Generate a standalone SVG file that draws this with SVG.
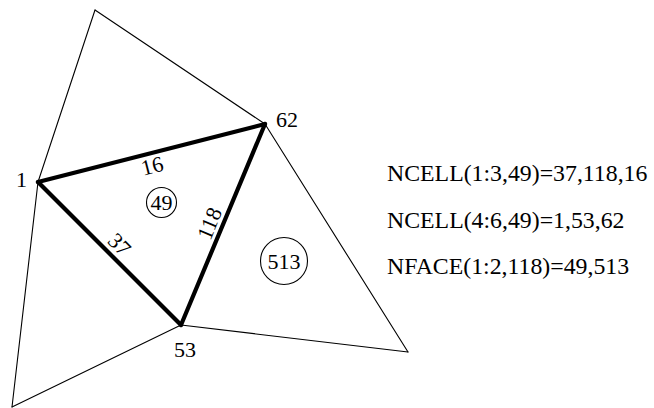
<svg xmlns="http://www.w3.org/2000/svg" width="654" height="408" viewBox="0 0 654 408">
<style>
.thin{stroke:#000;stroke-width:1.1;fill:none;stroke-linecap:round}
.thick{stroke:#000;stroke-width:4.2;fill:none;stroke-linecap:round;stroke-linejoin:round}
.circ{stroke:#000;stroke-width:1.1;fill:none}
text{font-family:"Liberation Serif","Times New Roman",serif;fill:#000}
.lab{font-size:22px}
.eq{font-size:23.8px}
</style>
<rect width="654" height="408" fill="#fff"/>
<g id="connectors">
<line class="thin" x1="95" y1="10" x2="265" y2="124"/>
<line class="thin" x1="95" y1="10" x2="38" y2="182"/>
<line class="thin" x1="38" y1="182" x2="12" y2="407"/>
<line class="thin" x1="181" y1="325" x2="12" y2="407"/>
<line class="thin" x1="181" y1="325" x2="408" y2="352"/>
<line class="thin" x1="265" y1="124" x2="408" y2="352"/>
<g id="edge16"><line class="thick" x1="38" y1="182" x2="265" y2="124"/><text class="lab" text-anchor="middle" transform="translate(153.9,173.1) rotate(-14.3)">16</text></g>
<g id="edge37"><line class="thick" x1="38" y1="182" x2="181" y2="325"/><text class="lab" text-anchor="middle" transform="translate(114.2,249.8) rotate(45)">37</text></g>
<g id="edge118"><line class="thick" x1="181" y1="325" x2="265" y2="124"/><text class="lab" text-anchor="middle" transform="translate(216.4,226.3) rotate(-67.3)">118</text></g>
</g>
<g id="node1"><text class="lab" x="16" y="187">1</text></g>
<g id="node62"><text class="lab" x="276" y="127">62</text></g>
<g id="node53"><text class="lab" x="174" y="357">53</text></g>
<g id="cell49"><circle class="circ" cx="161.5" cy="202.5" r="15"/><text class="lab" x="161.5" y="210" text-anchor="middle">49</text></g>
<g id="cell513"><circle class="circ" cx="284" cy="261" r="23.5"/><text class="lab" x="284" y="268.5" text-anchor="middle">513</text></g>
<g id="equations">
<text class="eq" x="387" y="181">NCELL(1:3,49)=37,118,16</text>
<text class="eq" x="387" y="228">NCELL(4:6,49)=1,53,62</text>
<text class="eq" x="387" y="274">NFACE(1:2,118)=49,513</text>
</g>
</svg>
